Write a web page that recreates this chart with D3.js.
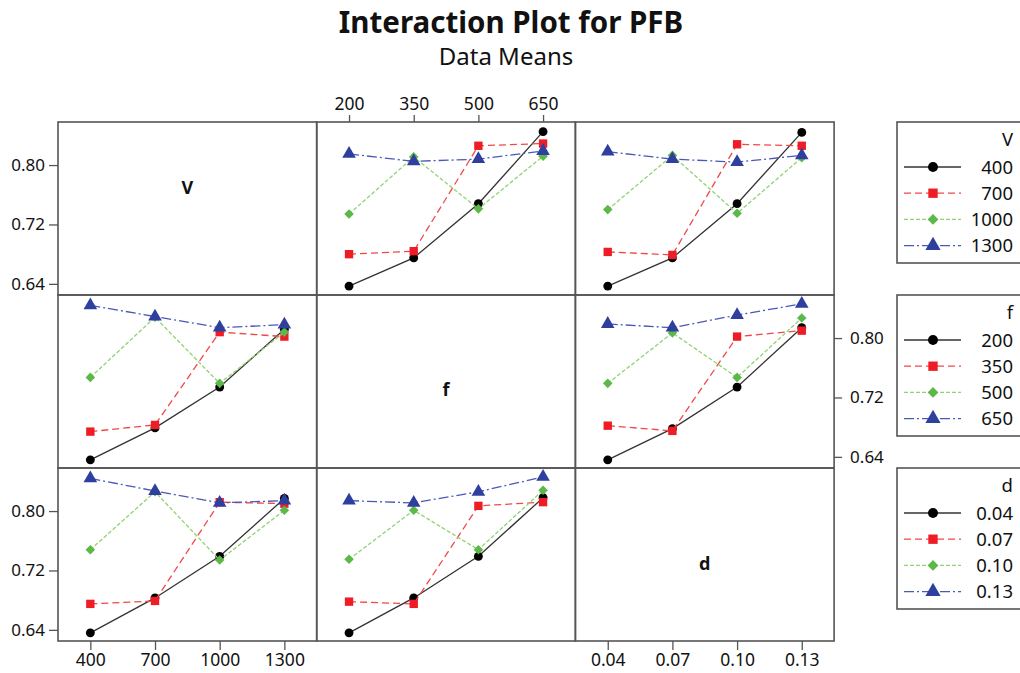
<!DOCTYPE html>
<html>
<head>
<meta charset="utf-8">
<script src="https://cdn.jsdelivr.net/npm/d3@7"></script>
<style>
  body { margin: 0; background: #fff; }
  text { font-family: "Noto Sans", "DejaVu Sans", sans-serif; fill: #111; }
</style>
</head>
<body>
<div id="chart"></div>
<script>
// Factor levels
var levelsV = ["400", "700", "1000", "1300"];
var levelsF = ["200", "350", "500", "650"];
var levelsD = ["0.04", "0.07", "0.10", "0.13"];

// Data means
// row "V": one series per V level, x = f or d
var meansVbyF = [
  [0.637, 0.675, 0.748, 0.845],
  [0.680, 0.684, 0.826, 0.829],
  [0.734, 0.811, 0.741, 0.812],
  [0.815, 0.805, 0.808, 0.819]
];
var meansVbyD = [
  [0.637, 0.675, 0.748, 0.844],
  [0.683, 0.679, 0.828, 0.826],
  [0.740, 0.813, 0.735, 0.810],
  [0.818, 0.808, 0.804, 0.813]
];
// row "f": one series per f level, x = V or d
var meansFbyV = [
  [0.636, 0.679, 0.734, 0.812],
  [0.674, 0.683, 0.808, 0.802],
  [0.747, 0.828, 0.739, 0.808],
  [0.844, 0.829, 0.814, 0.818]
];
var meansFbyD = [
  [0.636, 0.678, 0.734, 0.814],
  [0.682, 0.675, 0.802, 0.810],
  [0.739, 0.807, 0.747, 0.827],
  [0.819, 0.814, 0.831, 0.846]
];
// row "d": one series per d level, x = V or f
var meansDbyV = [
  [0.636, 0.683, 0.739, 0.817],
  [0.675, 0.679, 0.812, 0.810],
  [0.748, 0.826, 0.734, 0.801],
  [0.844, 0.827, 0.811, 0.814]
];
var meansDbyF = [
  [0.636, 0.683, 0.739, 0.818],
  [0.678, 0.675, 0.807, 0.812],
  [0.735, 0.801, 0.748, 0.828],
  [0.814, 0.811, 0.826, 0.846]
];
var yTicks = [0.64, 0.72, 0.80];

// Page size and panel grid
var svgWidth = 1020;
var svgHeight = 673;
var gridLeft = 58, gridTop = 122;
var cellW = 258.7, cellH = 173;

var svg = d3.select("#chart")
  .append("svg")
  .attr("width", svgWidth)
  .attr("height", svgHeight);

// Series styles (black solid, red dashed, green dotted, blue dash-dot)
var styles = [
  { line: "#333333", fill: "#000000", dash: null,       symbol: d3.symbolCircle,   size: 62, rot: 0 },
  { line: "#f04848", fill: "#ee1c24", dash: "7,4",      symbol: d3.symbolSquare,   size: 70, rot: 0 },
  { line: "#92d272", fill: "#5cb848", dash: "4,2",      symbol: d3.symbolSquare,   size: 46, rot: 45 },
  { line: "#4a58b8", fill: "#2e3f9e", dash: "10,3,2,3", symbol: d3.symbolTriangle, size: 80, rot: 0 }
];

var factors = [
  { name: "V", levels: levelsV },
  { name: "f", levels: levelsF },
  { name: "d", levels: levelsD }
];

// x scale per column, y scale per row
var xScales = factors.map(function (fac, i) {
  return d3.scalePoint()
    .domain(fac.levels)
    .range([gridLeft + i * cellW, gridLeft + (i + 1) * cellW])
    .padding(0.5);
});
var yScales = factors.map(function (fac, i) {
  return d3.scaleLinear()
    .domain([0.625, 0.858])
    .range([gridTop + (i + 1) * cellH, gridTop + i * cellH]);
});

// panels: row factor gives series, column factor gives x
var panels = [
  { row: 0, col: 1, values: meansVbyF },
  { row: 0, col: 2, values: meansVbyD },
  { row: 1, col: 0, values: meansFbyV },
  { row: 1, col: 2, values: meansFbyD },
  { row: 2, col: 0, values: meansDbyV },
  { row: 2, col: 1, values: meansDbyF }
];

// Titles
svg.append("text")
  .attr("x", 511).attr("y", 33)
  .attr("text-anchor", "middle")
  .attr("font-size", "29.5px")
  .attr("font-weight", "bold")
  .text("Interaction Plot for PFB");

svg.append("text")
  .attr("x", 506).attr("y", 65)
  .attr("text-anchor", "middle")
  .attr("font-size", "24px")
  .text("Data Means");

// Lines and markers
panels.forEach(function (p) {
  var x = xScales[p.col];
  var y = yScales[p.row];
  var levels = factors[p.col].levels;
  var g = svg.append("g");

  p.values.forEach(function (series, s) {
    var st = styles[s];
    var pts = series.map(function (v, k) { return [levels[k], v]; });

    g.append("path")
      .datum(pts)
      .attr("fill", "none")
      .attr("stroke", st.line)
      .attr("stroke-width", 1.3)
      .attr("stroke-dasharray", st.dash)
      .attr("d", d3.line()
        .x(function (d) { return x(d[0]); })
        .y(function (d) { return y(d[1]); }));

    g.selectAll(null)
      .data(pts)
      .join("path")
      .attr("transform", function (d) {
        return "translate(" + x(d[0]) + "," + y(d[1]) + ") rotate(" + st.rot + ")";
      })
      .attr("d", d3.symbol().type(st.symbol).size(st.size))
      .attr("fill", st.fill);
  });
});

// Panel frames
for (var r = 0; r < 3; r++) {
  for (var c = 0; c < 3; c++) {
    svg.append("rect")
      .attr("x", gridLeft + c * cellW)
      .attr("y", gridTop + r * cellH)
      .attr("width", cellW)
      .attr("height", cellH)
      .attr("fill", "none")
      .attr("stroke", "#555")
      .attr("stroke-width", 1.6);
  }
}

// Factor names on the diagonal
var diagOffsets = [72, 101, 102];
factors.forEach(function (fac, i) {
  svg.append("text")
    .attr("x", gridLeft + (i + 0.5) * cellW)
    .attr("y", gridTop + i * cellH + diagOffsets[i])
    .attr("text-anchor", "middle")
    .attr("font-size", "18px")
    .attr("font-weight", "bold")
    .text(fac.name);
});

// Axes
function styleAxis(g, size) {
  g.select(".domain").remove();
  g.selectAll(".tick line").attr("stroke", "#555").attr("stroke-width", 1.3);
  g.selectAll(".tick text")
    .attr("font-family", "Noto Sans, DejaVu Sans, sans-serif")
    .attr("font-size", size)
    .attr("fill", "#111");
}

var fmtY = d3.format(".2f");

// left axis on rows V and d
[0, 2].forEach(function (r) {
  svg.append("g")
    .attr("transform", "translate(" + gridLeft + ",0)")
    .call(d3.axisLeft(yScales[r]).tickValues(yTicks).tickFormat(fmtY).tickSize(9).tickPadding(4))
    .call(styleAxis, "17px");
});

// right axis on row f
svg.append("g")
  .attr("transform", "translate(" + (gridLeft + 3 * cellW) + ",0)")
  .call(d3.axisRight(yScales[1]).tickValues(yTicks).tickFormat(fmtY).tickSize(8).tickPadding(8))
  .call(styleAxis, "17px");

// top axis on column f
svg.append("g")
  .attr("transform", "translate(0," + gridTop + ")")
  .call(d3.axisTop(xScales[1]).tickSize(7).tickPadding(5))
  .call(styleAxis, "17.5px");

// bottom axes on columns V and d
[0, 2].forEach(function (c) {
  svg.append("g")
    .attr("transform", "translate(0," + (gridTop + 3 * cellH) + ")")
    .call(d3.axisBottom(xScales[c]).tickSize(9).tickPadding(4))
    .call(styleAxis, "17.5px");
});

// Legends, one per row
var legendX = 897;
factors.forEach(function (fac, i) {
  var top = gridTop + i * cellH;
  var lg = svg.append("g");

  lg.append("rect")
    .attr("x", legendX).attr("y", top)
    .attr("width", 140).attr("height", 141)
    .attr("fill", "#fff")
    .attr("stroke", "#555")
    .attr("stroke-width", 1.6);

  lg.append("text")
    .attr("x", 1013).attr("y", top + 24)
    .attr("text-anchor", "end")
    .attr("font-size", "18.5px")
    .text(fac.name);

  fac.levels.forEach(function (lv, k) {
    var st = styles[k];
    var cy = top + 45 + k * 26.2;
    lg.append("line")
      .attr("x1", legendX + 7).attr("x2", legendX + 64)
      .attr("y1", cy).attr("y2", cy)
      .attr("stroke", st.line)
      .attr("stroke-width", 1.3)
      .attr("stroke-dasharray", st.dash);
    lg.append("path")
      .attr("transform", "translate(" + (legendX + 36) + "," + cy + ") rotate(" + st.rot + ")")
      .attr("d", d3.symbol().type(st.symbol).size(st.size * 1.25))
      .attr("fill", st.fill);
    lg.append("text")
      .attr("x", 1013).attr("y", cy + 6.5)
      .attr("text-anchor", "end")
      .attr("font-size", "18.5px")
      .text(lv);
  });
});
</script>
</body>
</html>
